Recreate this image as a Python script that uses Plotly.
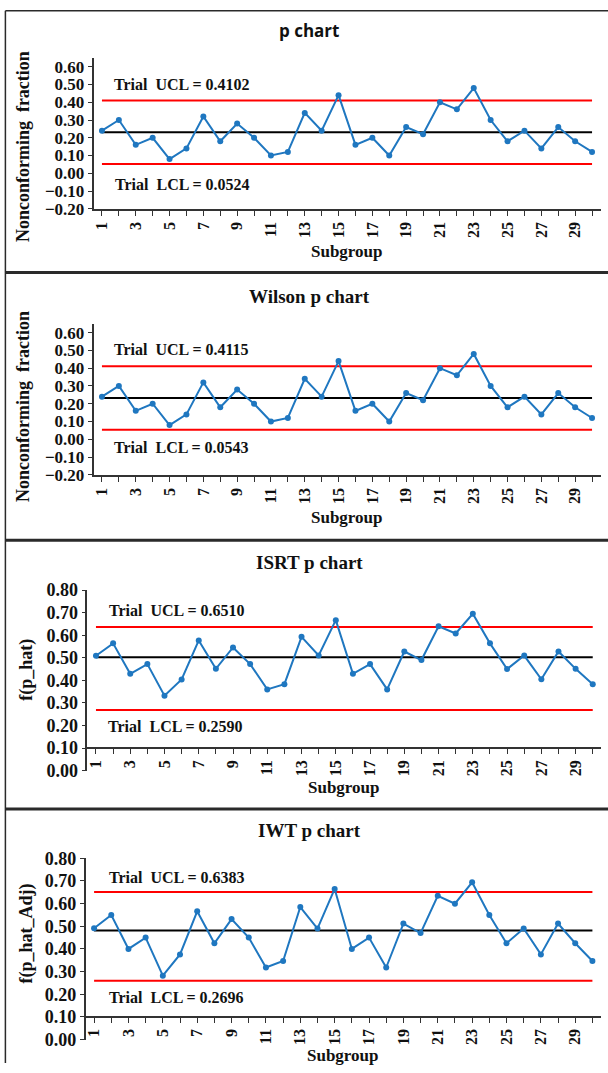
import plotly.graph_objects as go

W, H = 608, 1073

# ---------------- data ----------------
subgroups = list(range(1, 31))
tick_labels = [str(s) if s % 2 == 1 else "" for s in subgroups]

p_values = [0.24, 0.30, 0.16, 0.20, 0.08, 0.14, 0.32, 0.18, 0.28, 0.20,
            0.10, 0.12, 0.34, 0.24, 0.44, 0.16, 0.20, 0.10, 0.26, 0.22,
            0.40, 0.36, 0.48, 0.30, 0.18, 0.24, 0.14, 0.26, 0.18, 0.12]
wilson_values = [0.24, 0.30, 0.16, 0.20, 0.08, 0.14, 0.32, 0.18, 0.28, 0.20,
                 0.10, 0.12, 0.34, 0.24, 0.44, 0.16, 0.20, 0.10, 0.26, 0.22,
                 0.40, 0.36, 0.48, 0.30, 0.18, 0.24, 0.14, 0.26, 0.18, 0.12]
isrt_values = [0.509, 0.564, 0.429, 0.472, 0.332, 0.404, 0.577, 0.451, 0.546, 0.472,
               0.360, 0.383, 0.593, 0.510, 0.667, 0.429, 0.472, 0.360, 0.528, 0.490,
               0.640, 0.608, 0.695, 0.564, 0.450, 0.510, 0.405, 0.528, 0.451, 0.383]
iwt_values = [0.491, 0.550, 0.400, 0.450, 0.282, 0.376, 0.566, 0.425, 0.532, 0.450,
              0.318, 0.347, 0.585, 0.490, 0.665, 0.400, 0.450, 0.318, 0.512, 0.470,
              0.635, 0.600, 0.694, 0.550, 0.425, 0.490, 0.376, 0.512, 0.425, 0.347]

# drawn control lines (UCL, CL, LCL)
p_limits = [0.4102, 0.2313, 0.0524]
wilson_limits = [0.4115, 0.2329, 0.0543]
isrt_limits = [0.637, 0.502, 0.269]
iwt_limits = [0.651, 0.481, 0.260]

titles = ["p chart", "Wilson p chart", "ISRT p chart", "IWT p chart"]
y_titles = ["Nonconforming\u00a0 fraction", "Nonconforming\u00a0 fraction", "f(p_hat)", "f(p_hat_Adj)"]
ucl_texts = ["Trial\u00a0 UCL = 0.4102", "Trial\u00a0 UCL = 0.4115", "Trial\u00a0 UCL = 0.6510", "Trial\u00a0 UCL = 0.6383"]
lcl_texts = ["Trial\u00a0 LCL = 0.0524", "Trial\u00a0 LCL = 0.0543", "Trial\u00a0 LCL = 0.2590", "Trial\u00a0 LCL = 0.2696"]
x_title = "Subgroup"

p_ticks = [-0.2, -0.1, 0.0, 0.1, 0.2, 0.3, 0.4, 0.5, 0.6]
f_ticks = [0.0, 0.1, 0.2, 0.3, 0.4, 0.5, 0.6, 0.7, 0.8]

# ---------------- layout geometry (target pixels) ----------------
panels = [
    dict(vals=p_values, lim=p_limits, xdom=(93.5, 600.5), ydom=(56.7, 207.7), yr=[-0.2, 0.65],
         ticks=p_ticks, tsize=17, xcross=None, title_y=29, ytitle_xy=(23, 146), sub_y=250,
         ucl_xy=(111.7, 83.3), lcl_xy=(112.5, 183.3)),
    dict(vals=wilson_values, lim=wilson_limits, xdom=(93.5, 600.5), ydom=(322.7, 474), yr=[-0.2, 0.65],
         ticks=p_ticks, tsize=17, xcross=None, title_y=295, ytitle_xy=(23, 406), sub_y=516.7,
         ucl_xy=(112, 348.3), lcl_xy=(112, 446.7)),
    dict(vals=isrt_values, lim=isrt_limits, xdom=(87.4, 601.3), ydom=(589.3, 769.9), yr=[0, 0.8],
         ticks=f_ticks, tsize=18, xcross=0.1, title_y=561.7, ytitle_xy=(27, 669), sub_y=786.7,
         ucl_xy=(106.7, 609.5), lcl_xy=(106, 725.7)),
    dict(vals=iwt_values, lim=iwt_limits, xdom=(85.5, 601), ydom=(857.7, 1039), yr=[0, 0.8],
         ticks=f_ticks, tsize=18, xcross=0.1, title_y=830, ytitle_xy=(27, 933), sub_y=1055,
         ucl_xy=(106.6, 876.7), lcl_xy=(106.6, 996.7)),
]

Y_OFF, Y_SCALE = 8.8, 0.982   # empirical correction of the rendered vertical placement


def px(x):
    return x / W


def py(y):
    yd = (y - Y_OFF) / Y_SCALE
    return min(1.0, max(0.0, 1 - yd / H))


SERIF = "Liberation Serif, Times New Roman, serif"
BLUE = "#1F77C0"

fig = go.Figure()
annotations = []
shapes = []

for i, pn in enumerate(panels):
    n = i + 1
    xa = "x" if n == 1 else f"x{n}"
    ya = "y" if n == 1 else f"y{n}"
    ucl, cl, lcl = pn["lim"]
    xs = [subgroups[0], subgroups[-1]]
    for val, col, wd in [(ucl, "#FF0000", 2), (lcl, "#FF0000", 2), (cl, "#000000", 2)]:
        fig.add_trace(go.Scatter(x=xs, y=[val, val], mode="lines",
                                 line=dict(color=col, width=wd),
                                 xaxis=xa, yaxis=ya, showlegend=False, hoverinfo="skip"))
    fig.add_trace(go.Scatter(x=subgroups, y=pn["vals"], mode="lines+markers",
                             line=dict(color=BLUE, width=2),
                             marker=dict(color=BLUE, size=6),
                             xaxis=xa, yaxis=ya, showlegend=False))

    y0d, y1d = py(pn["ydom"][1]), py(pn["ydom"][0])
    xdom = [px(pn["xdom"][0]), px(pn["xdom"][1])]
    xkw = dict(domain=xdom, range=[0.5, 30.5], tickmode="array", tickvals=subgroups,
               ticktext=tick_labels, tickangle=-90, ticks="outside", ticklen=5,
               tickwidth=1, tickcolor="#333", showline=True, linecolor="#333", linewidth=1.5,
               showgrid=False, zeroline=False,
               tickfont=dict(family=SERIF, size=16, color="#111", weight="bold"))
    if pn["xcross"] is None:
        xkw["anchor"] = ya
    else:
        frac = (pn["xcross"] - pn["yr"][0]) / (pn["yr"][1] - pn["yr"][0])
        xkw["anchor"] = "free"
        xkw["position"] = y0d + (y1d - y0d) * frac
    ykw = dict(domain=[y0d, y1d], range=pn["yr"], anchor=xa, tickmode="array",
               tickvals=pn["ticks"], tickformat=".2f", ticks="outside", ticklen=4,
               tickwidth=1, tickcolor="#333", showline=True, linecolor="#333", linewidth=1.5,
               showgrid=False, zeroline=False,
               tickfont=dict(family=SERIF, size=pn["tsize"], color="#111", weight="bold"))
    fig.update_layout(**{("xaxis" if n == 1 else f"xaxis{n}"): xkw,
                         ("yaxis" if n == 1 else f"yaxis{n}"): ykw})

    # titles
    if n == 1:
        tfont = dict(family="Open Sans, Lato, sans-serif", size=17, color="#111")
    else:
        tfont = dict(family=SERIF, size=19, color="#111")
    annotations.append(dict(x=px(309), y=py(pn["title_y"]), xref="paper", yref="paper",
                            text="<b>" + titles[i] + "</b>", showarrow=False, font=tfont,
                            xanchor="center", yanchor="middle"))
    annotations.append(dict(x=px(pn["ytitle_xy"][0]), y=py(pn["ytitle_xy"][1]),
                            xref="paper", yref="paper", text="<b>" + y_titles[i] + "</b>",
                            textangle=-90, showarrow=False,
                            font=dict(family=SERIF, size=18, color="#111"),
                            xanchor="center", yanchor="middle"))
    annotations.append(dict(x=(xdom[0] + xdom[1]) / 2, y=py(pn["sub_y"]),
                            xref="paper", yref="paper", text="<b>" + x_title + "</b>",
                            showarrow=False, font=dict(family=SERIF, size=17, color="#111"),
                            xanchor="center", yanchor="middle"))
    for txt, (ax, ay) in [(ucl_texts[i], pn["ucl_xy"]), (lcl_texts[i], pn["lcl_xy"])]:
        annotations.append(dict(x=px(ax), y=py(ay), xref="paper", yref="paper",
                                text="<b>" + txt + "</b>", showarrow=False,
                                font=dict(family=SERIF, size=16, color="#111"),
                                xanchor="left", yanchor="middle"))

# panel borders
BORDER = "#2a2a2a"
shapes.append(dict(type="line", xref="paper", yref="paper", x0=px(5.4), x1=px(5.4),
                   y0=py(9.5), y1=0, line=dict(color=BORDER, width=1.5)))
shapes.append(dict(type="line", xref="paper", yref="paper", x0=px(5.4), x1=1,
                   y0=py(9.5), y1=py(9.5), line=dict(color=BORDER, width=1.5)))
for yb in [271.5, 539.5, 808.3]:
    shapes.append(dict(type="line", xref="paper", yref="paper", x0=px(5.4), x1=1,
                       y0=py(yb), y1=py(yb), line=dict(color=BORDER, width=3)))

fig.update_layout(width=W, height=H, margin=dict(l=0, r=0, t=0, b=0),
                  paper_bgcolor="white", plot_bgcolor="white",
                  annotations=annotations, shapes=shapes, showlegend=False)

fig.write_html("out.html", config={"displayModeBar": False},
               post_script="document.documentElement.style.margin='0';"
                           "document.body.style.margin='0';"
                           "document.documentElement.style.overflow='hidden';"
                           "document.body.style.overflow='hidden';")
